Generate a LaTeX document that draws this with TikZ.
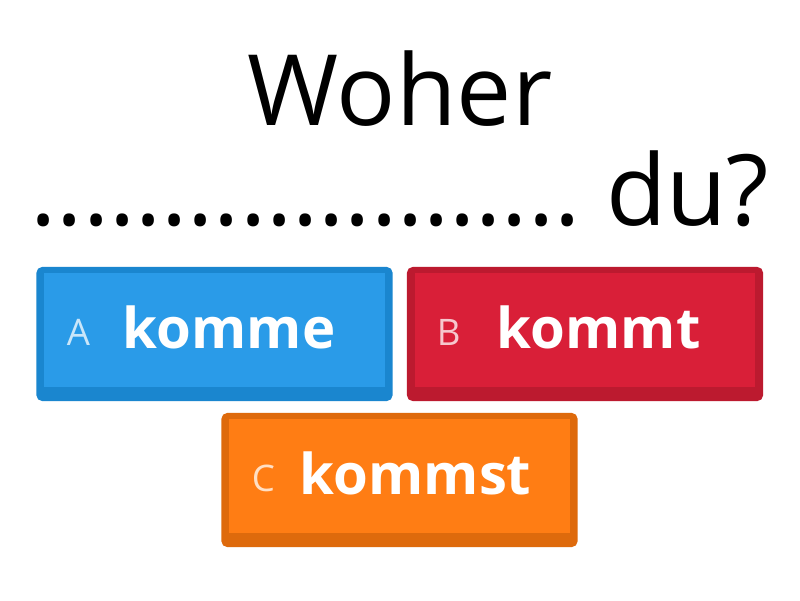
\documentclass[tikz,border=0pt]{standalone}
\usepackage{fontspec}
\setmainfont{Open Sans}
\usetikzlibrary{positioning}
\definecolor{blueA}{HTML}{2A9BE8}
\definecolor{blueAd}{HTML}{1A86CF}
\definecolor{redB}{HTML}{D91F38}
\definecolor{redBd}{HTML}{BC1A2F}
\definecolor{orangeC}{HTML}{FF7D14}
\definecolor{orangeCd}{HTML}{DE6A0C}
\begin{document}
\begin{tikzpicture}[x=0.025cm,y=-0.025cm,
    answer/.style={rectangle, rounded corners=4pt, minimum width=8.9cm, minimum height=3.35cm, inner sep=0pt},
    letter/.style={text=white!75!#1, font=\fontsize{26}{30}\selectfont},
    word/.style={text=white, font=\fontsize{40}{46}\selectfont\bfseries}
]
\useasboundingbox[fill=white] (0,0) rectangle (800,600);

% Question
\node[font=\fontsize{70}{80}\selectfont, anchor=base] (q1) at (400,125) {Woher};
\node[font=\fontsize{70}{80}\selectfont, anchor=base] (q2) at (400,225) {.....................\ du?};

% Answer A
\node[answer, fill=blueAd] (boxA) at (214.5,334) {};
\node[rectangle, fill=blueA, minimum width=8.5cm, minimum height=2.85cm, inner sep=0pt] (innerA) at (214.5,330) {};
\node[letter=blueA, anchor=base west] (letA) at (62,345) {A};
\node[word, anchor=base west] (wordA) at (118,348) {komme};

% Answer B
\node[answer, fill=redBd] (boxB) at (585,334) {};
\node[rectangle, fill=redB, minimum width=8.5cm, minimum height=2.85cm, inner sep=0pt] (innerB) at (585,330) {};
\node[letter=redB, anchor=base west] (letB) at (432,345) {B};
\node[word, anchor=base west] (wordB) at (492,348) {kommt};

% Answer C
\node[answer, fill=orangeCd] (boxC) at (399.5,480) {};
\node[rectangle, fill=orangeC, minimum width=8.5cm, minimum height=2.85cm, inner sep=0pt] (innerC) at (399.5,476) {};
\node[letter=orangeC, anchor=base west] (letC) at (247,491) {C};
\node[word, anchor=base west] (wordC) at (295,494) {kommst};
\end{tikzpicture}
\end{document}
